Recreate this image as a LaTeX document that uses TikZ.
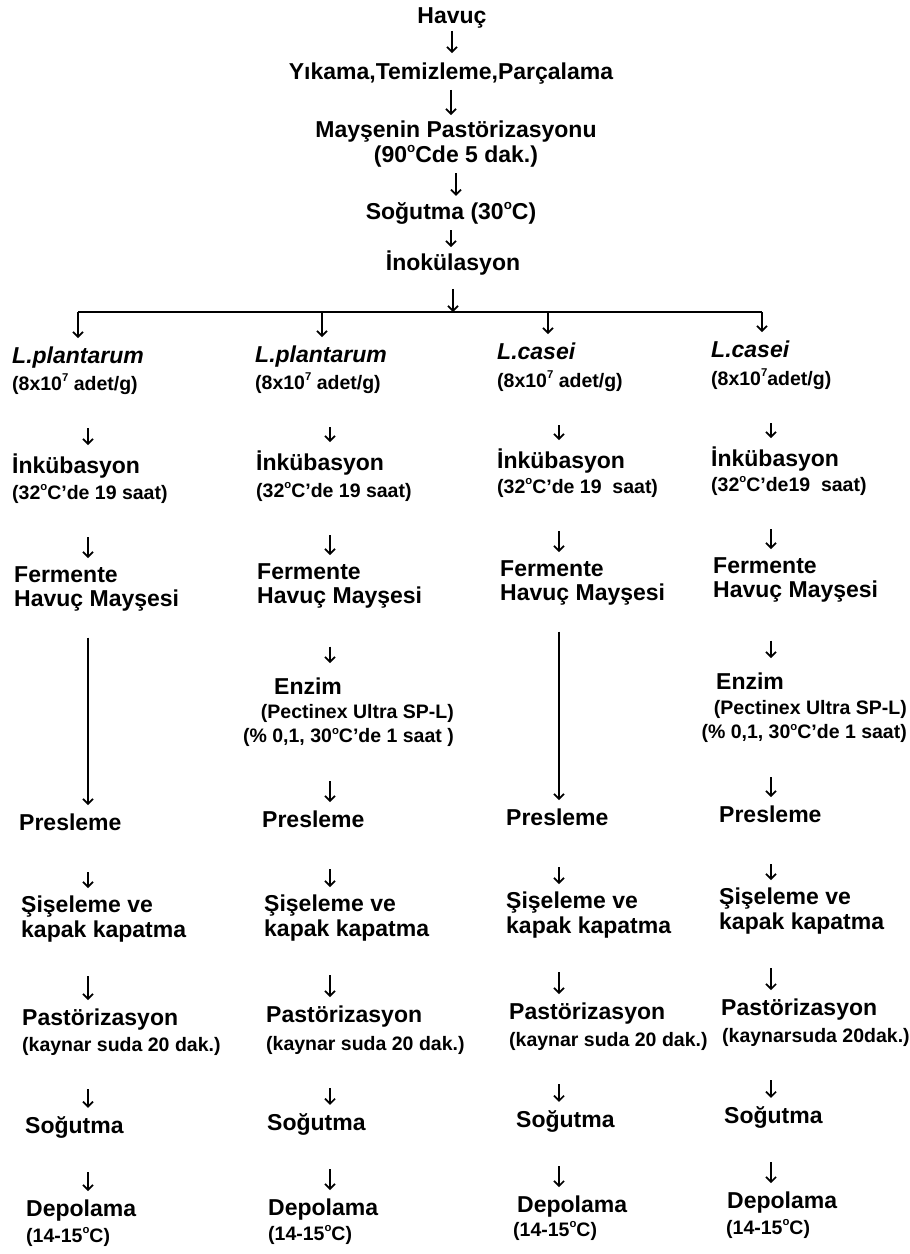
\documentclass[tikz,border=0pt]{standalone}
\usepackage{fontspec}
\setmainfont{Liberation Sans}
\usetikzlibrary{arrows.meta}

\newcommand{\sups}[1]{\raisebox{0.8ex}{\scalebox{0.58}{#1}}}
\newcommand{\degr}{\sups{o}}

\tikzset{
	txt/.style={font=\fontsize{23}{24.5}\selectfont\bfseries, inner sep=0pt, align=left},
	sml/.style={font=\fontsize{19.5}{24.5}\selectfont\bfseries, inner sep=0pt, align=left},
	spc/.style={txt, font=\fontsize{23}{24.5}\selectfont\bfseries\itshape},
	arr/.style={-{Straight Barb[length=5pt,width=10pt]}, line width=1.7pt, shorten <=34pt, shorten >=8pt},
	tarr/.style={arr, shorten <=6pt, shorten >=6pt}
}

\begin{document}
\begin{tikzpicture}[x=1pt, y=-1pt]
	\useasboundingbox (0,0) rectangle (910,1254);
	% ortak basamaklar
	\node[txt, anchor=base] (havuc) at (452,23) {Havuç};
	\node[txt, anchor=base] (yikama) at (451,79) {Yıkama,Temizleme,Parçalama};
	\node[txt, align=center, anchor=north] (mayse) at (456,121) {Mayşenin Pastörizasyonu\\(90\degr Cde 5 dak.)};
	\node[txt, anchor=base] (sogut) at (451,219) {Soğutma (30\degr C)};
	\node[txt, anchor=base] (inok) at (453,270) {İnokülasyon};
		\draw[tarr, shorten <=3pt, shorten >=9pt] (havuc.south) -- (havuc.south |- yikama.north);
		\draw[tarr] (yikama.south) -- (yikama.south |- mayse.north);
		\draw[tarr] (mayse.south) -- (mayse.south |- sogut.north);
		\draw[tarr, shorten >=3pt] (sogut.south) -- (sogut.south |- inok.north);
	% dallanma
	\coordinate (b1) at (78,312);
	\coordinate (b2) at (322,312);
	\coordinate (b3) at (548,312);
	\coordinate (b4) at (762,312);
	\coordinate (a1) at (88,0);
	\coordinate (a2) at (330,0);
	\coordinate (a3) at (559,0);
	\coordinate (a4) at (771,0);
		\draw[line width=1.5pt] (b1) -- (b4);
		\draw[arr, shorten <=14pt, shorten >=0pt] (inok.south) -- (inok.south |- b1);
	% 1. kolon
	\node[spc, anchor=base west] (sp1) at (12,363) {L.plantarum};
	\node[sml, anchor=base west] (spd1) at (12,390) {(8x10\sups{7} adet/g)};
	\node[txt, anchor=base west] (ink1) at (12,473) {İnkübasyon};
	\node[sml, anchor=base west] (inkd1) at (12,499) {(32\degr C'de 19 saat)};
	\node[txt, anchor=north west] (fer1) at (14,566) {Fermente\\Havuç Mayşesi};
	\node[txt, anchor=base west] (pres1) at (19,830) {Presleme};
	\node[txt, anchor=north west] (sis1) at (21,896) {Şişeleme ve\\kapak kapatma};
	\node[txt, anchor=base west] (past1) at (22,1025) {Pastörizasyon};
	\node[sml, anchor=base west] (pastd1) at (22,1051) {(kaynar suda 20 dak.)};
	\node[txt, anchor=base west] (sog1) at (25,1133) {Soğutma};
	\node[txt, anchor=base west] (dep1) at (26,1216) {Depolama};
	\node[sml, anchor=base west] (depd1) at (26,1242) {(14-15\degr C)};
	% 2. kolon
	\node[spc, anchor=base west] (sp2) at (255,362) {L.plantarum};
	\node[sml, anchor=base west] (spd2) at (255,389) {(8x10\sups{7} adet/g)};
	\node[txt, anchor=base west] (ink2) at (256,470) {İnkübasyon};
	\node[sml, anchor=base west] (inkd2) at (256,497) {(32\degr C'de 19 saat)};
	\node[txt, anchor=north west] (fer2) at (257,563) {Fermente\\Havuç Mayşesi};
	\node[txt, anchor=base west] (enz2) at (274,694) {Enzim};
	\node[sml, align=right, anchor=north east] (enzd2) at (454,704) {(Pectinex Ultra SP-L)\\(\% 0,1, 30\degr C'de 1 saat )};
	\node[txt, anchor=base west] (pres2) at (262,827) {Presleme};
	\node[txt, anchor=north west] (sis2) at (264,895) {Şişeleme ve\\kapak kapatma};
	\node[txt, anchor=base west] (past2) at (266,1022) {Pastörizasyon};
	\node[sml, anchor=base west] (pastd2) at (266,1050) {(kaynar suda 20 dak.)};
	\node[txt, anchor=base west] (sog2) at (267,1130) {Soğutma};
	\node[txt, anchor=base west] (dep2) at (268,1215) {Depolama};
	\node[sml, anchor=base west] (depd2) at (268,1240) {(14-15\degr C)};
	% 3. kolon
	\node[spc, anchor=base west] (sp3) at (497,359) {L.casei};
	\node[sml, anchor=base west] (spd3) at (497,387) {(8x10\sups{7} adet/g)};
	\node[txt, anchor=base west] (ink3) at (497,468) {İnkübasyon};
	\node[sml, anchor=base west] (inkd3) at (497,493) {(32\degr C'de 19\ \ saat)};
	\node[txt, anchor=north west] (fer3) at (500,560) {Fermente\\Havuç Mayşesi};
	\node[txt, anchor=base west] (pres3) at (506,825) {Presleme};
	\node[txt, anchor=north west] (sis3) at (506,892) {Şişeleme ve\\kapak kapatma};
	\node[txt, anchor=base west] (past3) at (509,1019) {Pastörizasyon};
	\node[sml, anchor=base west] (pastd3) at (509,1046) {(kaynar suda 20 dak.)};
	\node[txt, anchor=base west] (sog3) at (516,1127) {Soğutma};
	\node[txt, anchor=base west] (dep3) at (517,1212) {Depolama};
	\node[sml, anchor=base west] (depd3) at (513,1236) {(14-15\degr C)};
	% 4. kolon
	\node[spc, anchor=base west] (sp4) at (711,357) {L.casei};
	\node[sml, anchor=base west] (spd4) at (711,385) {(8x10\sups{7}adet/g)};
	\node[txt, anchor=base west] (ink4) at (711,466) {İnkübasyon};
	\node[sml, anchor=base west] (inkd4) at (711,491) {(32\degr C'de19\ \ saat)};
	\node[txt, anchor=north west] (fer4) at (713,557) {Fermente\\Havuç Mayşesi};
	\node[txt, anchor=base west] (enz4) at (716,689) {Enzim};
	\node[sml, align=right, anchor=north east] (enzd4) at (907,700) {(Pectinex Ultra SP-L)\\(\% 0,1, 30\degr C'de 1 saat)};
	\node[txt, anchor=base west] (pres4) at (719,822) {Presleme};
	\node[txt, anchor=north west] (sis4) at (719,888) {Şişeleme ve\\kapak kapatma};
	\node[txt, anchor=base west] (past4) at (721,1015) {Pastörizasyon};
	\node[sml, anchor=base west] (pastd4) at (722,1042) {(kaynarsuda 20dak.)};
	\node[txt, anchor=base west] (sog4) at (724,1123) {Soğutma};
	\node[txt, anchor=base west] (dep4) at (727,1208) {Depolama};
	\node[sml, anchor=base west] (depd4) at (726,1234) {(14-15\degr C)};
	% dallardan kolonlara
		\draw[arr, shorten <=0pt] (b1) -- (b1 |- sp1.north);
		\draw[arr, shorten <=0pt] (b2) -- (b2 |- sp2.north);
		\draw[arr, shorten <=0pt] (b3) -- (b3 |- sp3.north);
		\draw[arr, shorten <=0pt] (b4) -- (b4 |- sp4.north);
	% 1. kolon oklari
		\draw[arr] (spd1.south -| a1) -- (ink1.north -| a1);
		\draw[arr] (inkd1.south -| a1) -- (fer1.north -| a1);
		\draw[arr, shorten <=26pt] (fer1.south -| a1) -- (pres1.north -| a1);
		\draw[arr, shorten <=42pt] (pres1.south -| a1) -- (sis1.north -| a1);
		\draw[arr] (sis1.south -| a1) -- (past1.north -| a1);
		\draw[arr] (pastd1.south -| a1) -- (sog1.north -| a1);
		\draw[arr] (sog1.south -| a1) -- (dep1.north -| a1);
	% 2. kolon oklari
		\draw[arr] (spd2.south -| a2) -- (ink2.north -| a2);
		\draw[arr] (inkd2.south -| a2) -- (fer2.north -| a2);
		\draw[arr, shorten <=38pt, shorten >=14pt] (fer2.south -| a2) -- (enz2.north -| a2);
		\draw[arr] (enzd2.south -| a2) -- (pres2.north -| a2);
		\draw[arr, shorten <=42pt] (pres2.south -| a2) -- (sis2.north -| a2);
		\draw[arr] (sis2.south -| a2) -- (past2.north -| a2);
		\draw[arr] (pastd2.south -| a2) -- (sog2.north -| a2);
		\draw[arr] (sog2.south -| a2) -- (dep2.north -| a2);
	% 3. kolon oklari
		\draw[arr] (spd3.south -| a3) -- (ink3.north -| a3);
		\draw[arr] (inkd3.south -| a3) -- (fer3.north -| a3);
		\draw[arr, shorten <=26pt] (fer3.south -| a3) -- (pres3.north -| a3);
		\draw[arr, shorten <=42pt] (pres3.south -| a3) -- (sis3.north -| a3);
		\draw[arr] (sis3.south -| a3) -- (past3.north -| a3);
		\draw[arr] (pastd3.south -| a3) -- (sog3.north -| a3);
		\draw[arr] (sog3.south -| a3) -- (dep3.north -| a3);
	% 4. kolon oklari
		\draw[arr] (spd4.south -| a4) -- (ink4.north -| a4);
		\draw[arr] (inkd4.south -| a4) -- (fer4.north -| a4);
		\draw[arr, shorten <=38pt, shorten >=14pt] (fer4.south -| a4) -- (enz4.north -| a4);
		\draw[arr] (enzd4.south -| a4) -- (pres4.north -| a4);
		\draw[arr, shorten <=42pt] (pres4.south -| a4) -- (sis4.north -| a4);
		\draw[arr] (sis4.south -| a4) -- (past4.north -| a4);
		\draw[arr] (pastd4.south -| a4) -- (sog4.north -| a4);
		\draw[arr] (sog4.south -| a4) -- (dep4.north -| a4);
\end{tikzpicture}
\end{document}
